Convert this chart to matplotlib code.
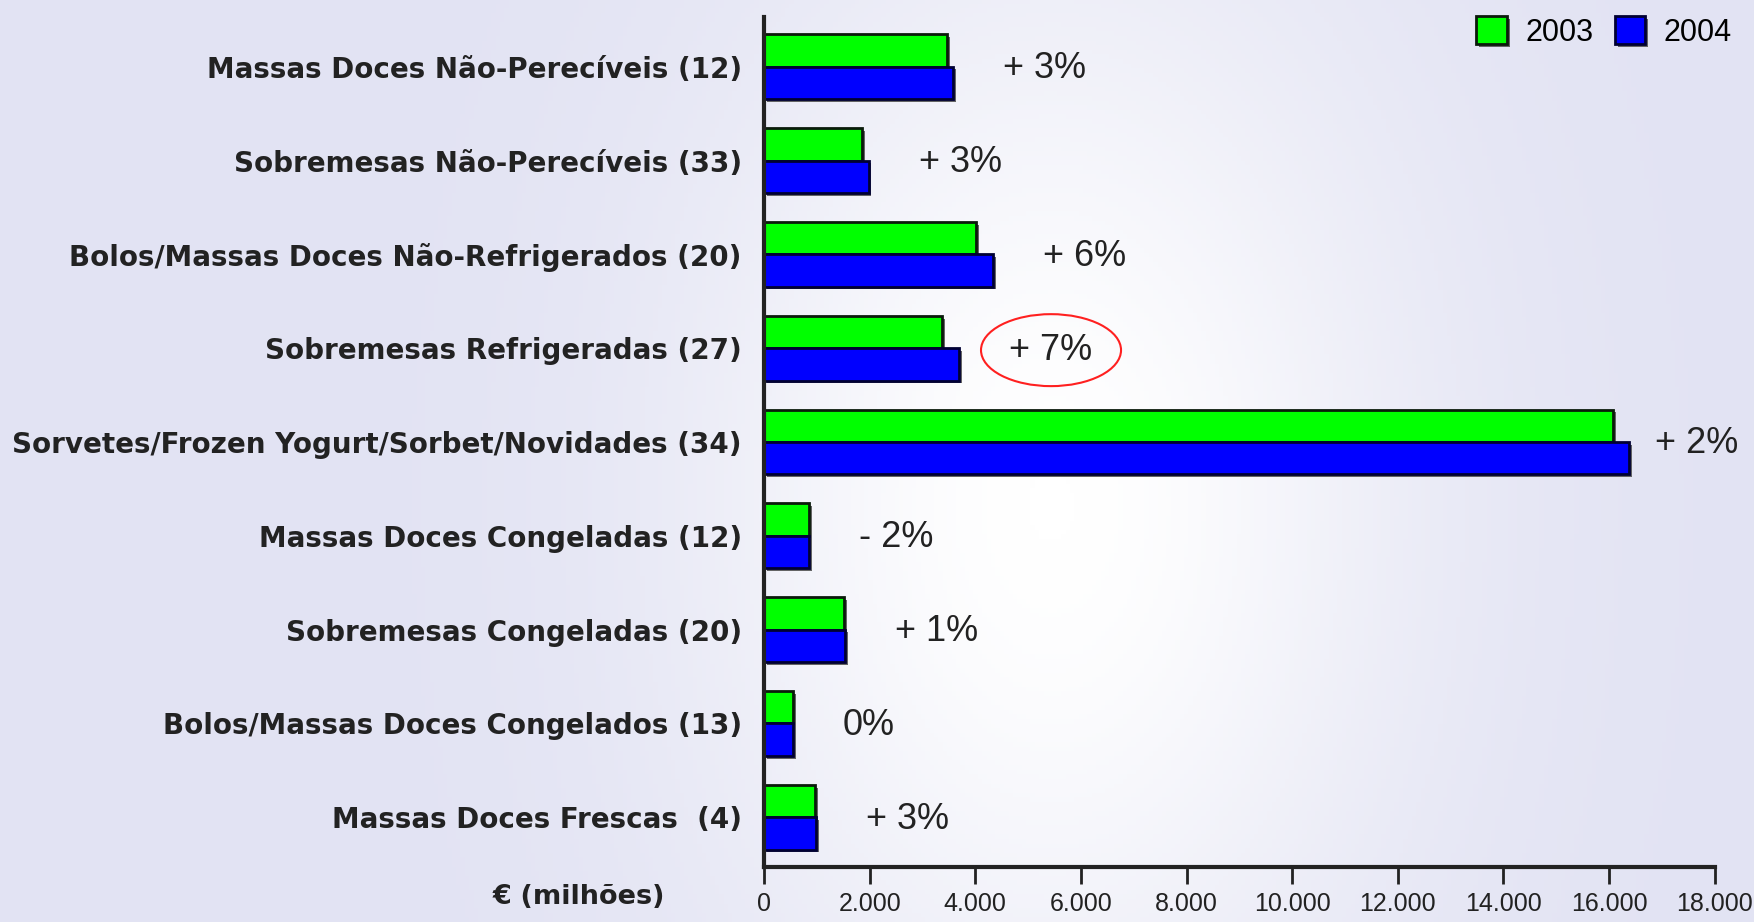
import numpy as np
import matplotlib
matplotlib.use('Agg')
import matplotlib.pyplot as plt
import matplotlib.patheffects as pe
from matplotlib.ticker import FuncFormatter

# categories (top to bottom), values in € millions
categories = [
    'Massas Doces Não-Perecíveis (12)',
    'Sobremesas Não-Perecíveis (33)',
    'Bolos/Massas Doces Não-Refrigerados (20)',
    'Sobremesas Refrigeradas (27)',
    'Sorvetes/Frozen Yogurt/Sorbet/Novidades (34)',
    'Massas Doces Congeladas (12)',
    'Sobremesas Congeladas (20)',
    'Bolos/Massas Doces Congelados (13)',
    'Massas Doces Frescas  (4)',
]
values_2003 = [3470, 1850, 4020, 3370, 16080, 860, 1520, 550, 970]
values_2004 = [3580, 1980, 4340, 3700, 16380, 850, 1530, 550, 990]
growth_labels = ['+ 3%', '+ 3%', '+ 6%', '+ 7%', '+ 2%', '- 2%', '+ 1%', '0%', '+ 3%']
highlight = 'Sobremesas Refrigeradas (27)'
xticks = np.arange(0, 18001, 2000)

fig = plt.figure(figsize=(17.54, 9.22), dpi=100)
fig.patch.set_facecolor('#e6e6f2')

# soft background (milk splash look): lavender edges, white middle
bg = fig.add_axes([0, 0, 1, 1], zorder=-10)
gx = np.linspace(0, 1, 400)
gy = np.linspace(0, 1, 200)
X, Y = np.meshgrid(gx, gy)
glow = np.exp(-((X - 0.6) / 0.2) ** 2 - ((Y - 0.45) / 0.6) ** 2)
bg.imshow(glow, extent=[0, 1, 0, 1], aspect='auto', origin='lower',
          cmap=matplotlib.colors.LinearSegmentedColormap.from_list('bg', ['#e2e3f3', '#ffffff']))
bg.axis('off')

ax = fig.add_axes([0.4356, 0.0597, 0.5420, 0.9219])
ax.patch.set_alpha(0)

y = np.arange(len(categories))
h = 0.345
shadow = [pe.SimplePatchShadow(offset=(2, -2), shadow_rgbFace='#555555', alpha=0.9), pe.Normal()]
ax.barh(y - h / 2, values_2003, height=h, color='#00ff00', edgecolor='#0a1a0a',
        linewidth=2, label='2003', path_effects=shadow)
ax.barh(y + h / 2, values_2004, height=h, color='#0000ff', edgecolor='#000033',
        linewidth=2, label='2004', path_effects=shadow)

for i, lab in enumerate(growth_labels):
    x_end = max(values_2003[i], values_2004[i])
    gap = 26 if i == 4 else 50
    kw = {}
    if categories[i] == highlight:
        kw['bbox'] = dict(boxstyle='ellipse,pad=0.22', fc='none', ec='#ff2020', lw=1.5)
    ax.annotate(lab, (x_end, y[i]), xytext=(gap, -2), textcoords='offset pixels',
                ha='left', va='center', fontsize=26, color='#222222',
                family='Liberation Sans', **kw)

ax.set_xlim(0, 18000)
ax.set_ylim(len(categories) - 0.47, -0.53)
ax.set_xticks(xticks)
ax.xaxis.set_major_formatter(FuncFormatter(lambda v, p: f'{int(v):,}'.replace(',', '.')))
ax.set_yticks(y)
ax.set_yticklabels(categories, fontsize=20, fontweight='bold', color='#222222', family='DejaVu Sans')
ax.tick_params(axis='y', length=0, pad=16)
ax.tick_params(axis='x', length=12, width=2, color='#222222', pad=6, labelsize=18,
               labelcolor='#222222', direction='out')
for lab in ax.get_xticklabels():
    lab.set_family('Liberation Sans')

for s in ['top', 'right']:
    ax.spines[s].set_visible(False)
for s in ['left', 'bottom']:
    ax.spines[s].set_linewidth(3)
    ax.spines[s].set_color('#222222')

fig.text(0.33, 0.027, '€ (milhões)', fontsize=19.5, fontweight='bold', color='#222222',
         ha='center', va='center', family='DejaVu Sans')

fig.legend(loc='upper right', bbox_to_anchor=(1.003, 1.012), ncol=2, frameon=False,
           handlelength=1.0, handleheight=1.0, columnspacing=0.7,
           handletextpad=0.6, prop={'family': 'Liberation Sans', 'size': 22})

fig.savefig('out.png', dpi=100, facecolor=fig.get_facecolor())
